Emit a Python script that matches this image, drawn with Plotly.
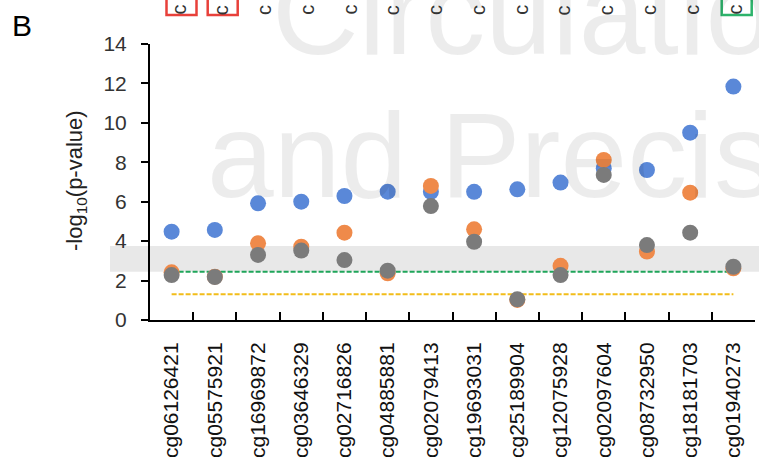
import plotly.graph_objects as go

categories = ["cg06126421", "cg05575921", "cg16969872", "cg03646329", "cg02716826",
              "cg04885881", "cg02079413", "cg19693031", "cg25189904", "cg12075928",
              "cg02097604", "cg08732950", "cg18181703", "cg01940273"]
blue_vals = [4.48, 4.57, 5.92, 6.00, 6.29, 6.51, 6.50, 6.50, 6.63, 6.97, 7.70, 7.61, 9.50, 11.84]
orange_vals = [2.42, 2.20, 3.89, 3.72, 4.43, 2.37, 6.80, 4.60, 1.02, 2.75, 8.12, 3.47, 6.46, 2.62]
gray_vals = [2.28, 2.18, 3.30, 3.52, 3.04, 2.50, 5.78, 3.97, 1.05, 2.28, 7.36, 3.80, 4.43, 2.70]
bonferroni_line = 2.45
nominal_line = 1.30
band_range = [2.45, 3.75]
y_ticks = [0, 2, 4, 6, 8, 10, 12, 14]

FONT = "Liberation Sans, Arial, sans-serif"
W, H = 759, 469
ML, MR, MT, MB = 150, 4, 44, 149
PW = W - ML - MR
PH = H - MT - MB

def px_x(p):
    return (p - ML) / PW

def px_y(p):
    return (H - MB - p) / PH

fig = go.Figure()

# threshold lines
fig.add_trace(go.Scatter(x=[categories[0], categories[-1]], y=[bonferroni_line] * 2,
                         mode="lines", line=dict(color="#1fa55a", width=2, dash="5px,2px"),
                         hoverinfo="skip", showlegend=False))
fig.add_trace(go.Scatter(x=[categories[0], categories[-1]], y=[nominal_line] * 2,
                         mode="lines", line=dict(color="#f2bd1a", width=2, dash="5px,2px"),
                         hoverinfo="skip", showlegend=False))

for vals, col in [(blue_vals, "#5a88d8"), (orange_vals, "#ef8a4a"), (gray_vals, "#7b7b7b")]:
    fig.add_trace(go.Scatter(x=categories, y=vals, mode="markers",
                             marker=dict(color=col, size=16, line=dict(width=0)),
                             showlegend=False))

shapes = [
    dict(type="rect", xref="paper", yref="y", x0=px_x(110), x1=1.02,
         y0=band_range[0], y1=band_range[1], fillcolor="#e8e8e8",
         line=dict(width=0), layer="below"),
]
# boxes around top glyphs
for (cx, col) in [(181.5, "#e8403a"), (222.7, "#e8403a"), (736.7, "#2db36b")]:
    shapes.append(dict(type="rect", xref="paper", yref="paper",
                       x0=px_x(cx - 15), x1=px_x(cx + 15),
                       y0=px_y(15), y1=px_y(-10),
                       line=dict(color=col, width=2.5), fillcolor="rgba(0,0,0,0)"))

annotations = [
    dict(text="Circulatio", xref="paper", yref="paper", x=px_x(270), y=px_y(12),
         xanchor="left", yanchor="middle", showarrow=False,
         font=dict(family=FONT, size=120, color="rgba(0,0,0,0.075)")),
    dict(text="and Precis", xref="paper", yref="paper", x=px_x(205), y=px_y(155),
         xanchor="left", yanchor="middle", showarrow=False,
         font=dict(family=FONT, size=120, color="rgba(0,0,0,0.075)")),
    dict(text="B", xref="paper", yref="paper", x=px_x(22), y=px_y(26),
         xanchor="center", yanchor="middle", showarrow=False,
         font=dict(family=FONT, size=30, color="#000")),
    dict(text="-log<sub>10</sub>(p-value)", xref="paper", yref="paper",
         x=px_x(76), y=px_y(181), xanchor="center", yanchor="middle",
         textangle=-90, showarrow=False,
         font=dict(family=FONT, size=22, color="#222")),
]
for i in range(len(categories)):
    annotations.append(dict(text="c", xref="paper", yref="paper",
                            x=px_x(181.5 + 42.77 * i), y=px_y(10),
                            xanchor="center", yanchor="middle", textangle=-90,
                            xshift=-3, showarrow=False,
                            font=dict(family=FONT, size=20, color="#333")))

fig.update_layout(
    width=W, height=H,
    margin=dict(l=ML, r=MR, t=MT, b=MB, pad=0),
    paper_bgcolor="white", plot_bgcolor="rgba(0,0,0,0)",
    font=dict(family=FONT, size=21, color="#222"),
    shapes=shapes, annotations=annotations,
    xaxis=dict(type="category", categoryorder="array", categoryarray=categories,
               range=[-0.5, len(categories) - 0.5],
               showline=True, linecolor="#000", linewidth=2,
               ticks="inside", tickson="boundaries", ticklen=8, tickwidth=2, tickcolor="#000",
               tickangle=-90, tickfont=dict(family=FONT, size=21, color="#111"),
               showgrid=False, zeroline=False, ticklabelstandoff=12),
    yaxis=dict(range=[0, 14], tickvals=y_ticks,
               showline=True, linecolor="#000", linewidth=2,
               ticks="outside", ticklen=7, tickwidth=2, tickcolor="#000",
               tickfont=dict(family=FONT, size=21, color="#333"),
               showgrid=False, zeroline=False, ticklabelstandoff=10),
)

fig.write_html("out.html")
